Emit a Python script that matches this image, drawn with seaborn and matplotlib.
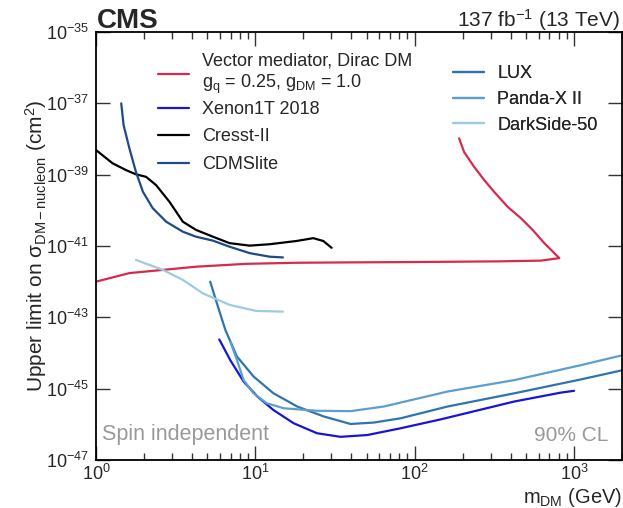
import numpy as np
import pandas as pd
import matplotlib
matplotlib.use("Agg")
import matplotlib.pyplot as plt
import seaborn as sns
from matplotlib.lines import Line2D
from matplotlib.ticker import LogLocator, NullLocator, NullFormatter

# ---------------- data (sigma as log10 of cm^2) ----------------
vec_m = [1.0, 1.62, 2.63, 4.25, 8.78, 18.1, 37.4, 100, 348, 620, 809,
         651, 550, 464, 383, 315, 273, 236, 204, 190]
vec_s = [-42.00, -41.76, -41.67, -41.58, -41.50, -41.47, -41.46, -41.45, -41.43, -41.41, -41.34,
         -40.92, -40.55, -40.22, -39.90, -39.48, -39.15, -38.78, -38.36, -37.98]

xenon_m = [5.94, 6.96, 8.44, 10.3, 13.0, 17.4, 24.4, 34.2, 50.4, 81.7, 146, 422, 829, 1000]
xenon_s = [-43.62, -44.20, -44.80, -45.22, -45.60, -45.97, -46.25, -46.35, -46.30, -46.11,
           -45.86, -45.36, -45.11, -45.06]

cresst_m = [1.0, 1.27, 1.54, 1.78, 2.06, 2.38, 2.89, 3.51, 4.25, 5.42, 6.89, 9.21,
            12.3, 18.1, 23.1, 26.7, 30.1]
cresst_s = [-38.31, -38.68, -38.87, -38.99, -39.06, -39.29, -39.76, -40.32, -40.55, -40.74,
            -40.92, -40.99, -40.95, -40.86, -40.78, -40.86, -41.05]

cdms_m = [1.44, 1.49, 1.62, 1.78, 1.97, 2.27, 2.76, 3.51, 4.25, 5.42, 6.89, 9.21, 12.3, 14.9]
cdms_s = [-37.00, -37.61, -38.26, -38.92, -39.48, -39.94, -40.32, -40.60, -40.74, -40.85,
          -41.02, -41.20, -41.30, -41.32]

lux_m = [5.21, 5.74, 6.48, 7.67, 9.75, 13.0, 18.3, 26.9, 39.6, 55.5, 81.7, 161, 422, 1107, 2025]
lux_s = [-42.00, -42.61, -43.35, -44.10, -44.66, -45.13, -45.50, -45.78, -45.99, -45.95,
         -45.83, -45.50, -45.13, -44.74, -44.48]

panda_m = [6.96, 7.67, 8.44, 9.75, 11.8, 15.1, 24.4, 39.6, 64.1, 161, 422, 1107, 2025]
panda_s = [-43.68, -44.20, -44.76, -45.13, -45.41, -45.55, -45.62, -45.63, -45.50,
           -45.08, -44.76, -44.34, -44.06]

dark_m = [1.78, 2.63, 3.51, 4.69, 6.89, 10.1, 14.9]
dark_s = [-41.39, -41.67, -41.95, -42.33, -42.65, -42.82, -42.84]

series = [
    ("Vector mediator, Dirac DM\n$g_{\\mathrm{q}}$ = 0.25, $g_{\\mathrm{DM}}$ = 1.0", vec_m, vec_s, "#d62a4e"),
    ("Xenon1T 2018", xenon_m, xenon_s, "#1616d4"),
    ("Cresst-II", cresst_m, cresst_s, "#000000"),
    ("CDMSlite", cdms_m, cdms_s, "#1f4a86"),
    ("LUX", lux_m, lux_s, "#2f74ad"),
    ("Panda-X II", panda_m, panda_s, "#5b9fcf"),
    ("DarkSide-50", dark_m, dark_s, "#9ecbe1"),
]

# ---------------- style ----------------
sns.set_theme(style="ticks")
plt.rcParams["font.family"] = ["Liberation Sans", "DejaVu Sans"]
plt.rcParams["mathtext.fontset"] = "custom"
plt.rcParams["mathtext.rm"] = "Liberation Sans"
plt.rcParams["mathtext.it"] = "Liberation Sans"
plt.rcParams["mathtext.sf"] = "Liberation Sans"
plt.rcParams["mathtext.bf"] = "Liberation Sans:bold"

LW = 1.6
fig = plt.figure(figsize=(6.23, 5.08), dpi=100)
ax = fig.add_axes([96 / 623, 1 - 460 / 508, 526 / 623, 428 / 508])

for name, m, s, c in series:
    df = pd.DataFrame({"m": m, "sigma": 10.0 ** np.array(s)})
    sns.lineplot(data=df, x="m", y="sigma", sort=False, estimator=None,
                 color=c, lw=LW, ax=ax, legend=False)

ax.set_xscale("log")
ax.set_yscale("log")
ax.set_xlim(1, 2000)
ax.set_ylim(1e-47, 1e-35)
ax.set_yticks([10.0 ** e for e in range(-47, -34, 2)])
ax.yaxis.set_minor_locator(NullLocator())
ax.xaxis.set_major_locator(LogLocator(base=10, numticks=10))
ax.xaxis.set_minor_locator(LogLocator(base=10, subs=np.arange(2, 10), numticks=20))
ax.xaxis.set_minor_formatter(NullFormatter())

ax.tick_params(which="both", direction="in", top=True, right=True, labelsize=13, color="#333333")
ax.tick_params(which="major", length=10, width=1.0, pad=5)
ax.tick_params(axis="x", which="major", pad=3)
ax.tick_params(which="minor", length=5, width=1.0)
for sp in ax.spines.values():
    sp.set_linewidth(1.3)
    sp.set_color("black")

ax.set_xlabel("$m_{\\mathrm{DM}}$ (GeV)", fontsize=14.5, ha="right")
ax.xaxis.set_label_coords(1.0, -0.060)
ax.set_ylabel("Upper limit on $\\sigma_{\\mathrm{DM-nucleon}}$ (cm$^{2}$)", fontsize=15, labelpad=-2)

# texts
fig.text(97 / 623, 1 - 28 / 508, "CMS", fontsize=20, fontweight="bold", ha="left", va="baseline")
fig.text(620 / 623, 1 - 27 / 508, "137 fb$^{-1}$ (13 TeV)", fontsize=15, ha="right", va="baseline")
ax.text(0.012, 0.035, "Spin independent", transform=ax.transAxes, fontsize=15.5,
        color="#999999", ha="left", va="bottom")
ax.text(0.975, 0.035, "90% CL", transform=ax.transAxes, fontsize=15,
        color="#999999", ha="right", va="bottom")

# legends
def handles(items):
    return [Line2D([], [], color=c, lw=LW) for _, _, _, c in items]

legkw = dict(loc="upper left", frameon=False, fontsize=13, handlelength=1.7,
             handletextpad=0.75, borderpad=0, borderaxespad=0)
groups = [(series[:1], (0.118, 0.952), 0.62),
          (series[1:4], (0.118, 0.839), 0.58),
          (series[4:], (0.679, 0.922), 0.48)]
for items, anchor, sp in groups:
    lg = ax.legend(handles(items), [n for n, *_ in items], bbox_to_anchor=anchor,
                   labelspacing=sp, **legkw)
    ax.add_artist(lg)

fig.savefig("out.png", dpi=100)
